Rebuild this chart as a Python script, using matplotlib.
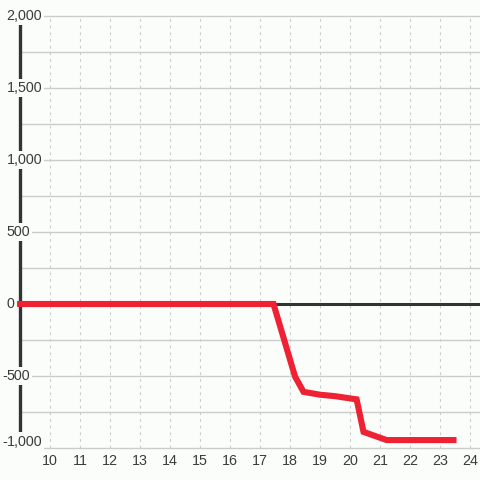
"""Cumulative value line chart, flat at zero then dropping in the evening."""

import matplotlib
matplotlib.use("Agg")
import matplotlib.pyplot as plt

# data
hours = [8.9, 17.45, 18.17, 18.45, 19.0, 19.5, 20.22, 20.45, 21.22, 23.55]
values = [0, 0, -505, -610, -630, -640, -662, -888, -945, -945]

x_ticks = list(range(10, 25))
y_ticks = [-1000, -500, 0, 500, 1000, 1500, 2000]
y_grid = list(range(-1000, 2001, 250))

BG = "#fbfdfb"
RED = "#ee2233"
DARK = "#333333"
GRID = "#cccccc"
TEXT = "#3a3a3a"

fig = plt.figure(figsize=(4.8, 4.8), dpi=100, facecolor=BG)
ax = fig.add_axes([0, 0, 1, 1])
ax.set_facecolor(BG)
ax.set_xlim(8.333, 24.333)
ax.set_ylim(-1222.2, 2111.1)
ax.axis("off")

# horizontal grid (labels sit on top of it with a background box)
for y in y_grid:
    ax.plot([9.0, 24.333], [y, y], color=GRID, lw=1.0, zorder=1)
# vertical dotted grid
for x in x_ticks:
    ax.plot([x, x], [-1000, 2000], color=GRID, lw=0.8, ls=(0, (2.5, 3.5)), zorder=1)

# zero line and left axis
ax.plot([9.0, 24.333], [0, 0], color=DARK, lw=2.2, zorder=2)
ax.plot([9.0, 9.0], [-950, 1945], color=DARK, lw=2.4, zorder=2)

# series
ax.plot(hours, values, color=RED, lw=4.4, solid_joinstyle="miter",
        solid_capstyle="butt", zorder=4)

# y labels: digits left-aligned, minus sign hanging to the left
box = dict(facecolor=BG, edgecolor="none", pad=1.5)
for y in y_ticks:
    ypos = y + 45 if y == y_ticks[0] else y
    ax.text(8.556, ypos, f"{abs(y):,}", ha="left", va="center", fontsize=10.3,
            family="Liberation Sans", color=TEXT, zorder=5, bbox=box)
    if y < 0:
        ax.text(8.556, ypos, "-", ha="right", va="center", fontsize=10.3,
                family="Liberation Sans", color=TEXT, zorder=5)

# x labels
for x in x_ticks:
    ax.text(x, -1090, str(x), ha="center", va="center", fontsize=10.3,
            family="Liberation Sans", color=TEXT)

fig.savefig("out.png", dpi=100, facecolor=BG)
